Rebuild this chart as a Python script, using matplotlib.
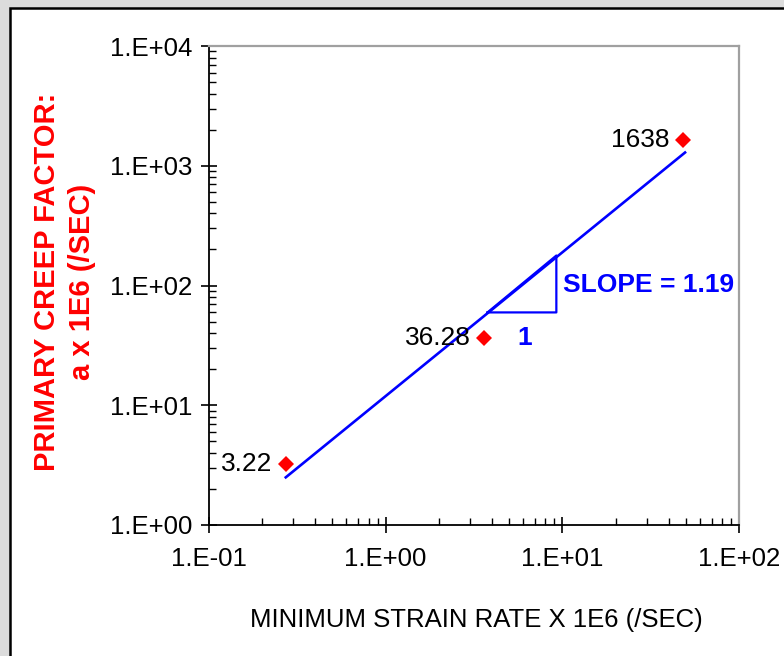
import numpy as np
import matplotlib.pyplot as plt
from matplotlib.patches import Rectangle
from matplotlib.ticker import LogLocator, FixedLocator, NullFormatter

plt.rcParams['font.family'] = ['Liberation Sans', 'DejaVu Sans']

# measured points (strain rate x1E6, primary creep factor x1E6)
strain_rate = [0.272, 3.62, 48.5]
creep_factor = [3.22, 36.28, 1638]
point_labels = ['3.22', '36.28', '1638']

# fitted power law line end points
fit_x = [0.272, 49.5]
fit_y = [2.5, 1290]

# slope triangle corners
tri_x = [3.77, 9.25, 9.25, 3.77]
tri_y = [59.6, 59.6, 178, 59.6]

x_ticks = [0.1, 1, 10, 100]
x_ticklabels = ['1.E-01', '1.E+00', '1.E+01', '1.E+02']
y_ticks = [1, 10, 100, 1000, 10000]
y_ticklabels = ['1.E+00', '1.E+01', '1.E+02', '1.E+03', '1.E+04']

fig = plt.figure(figsize=(7.84, 6.56), dpi=100, facecolor='#dcdcdc')
# white panel with black edge on top/left
fig.patches.append(Rectangle((10 / 784, -0.1), 1.1, 1.1 - 8 / 656,
                             transform=fig.transFigure, facecolor='white',
                             edgecolor='black', linewidth=1.8, zorder=-5))

ax = fig.add_axes([209 / 784, 1 - 525 / 656, 530 / 784, 479 / 656])
ax.set_zorder(1)
ax.set_xscale('log')
ax.set_yscale('log')
ax.set_xlim(0.1, 100)
ax.set_ylim(1, 10000)

ax.plot(fit_x, fit_y, color='#0000ff', lw=1.9, zorder=2)
ax.plot(tri_x, tri_y, color='#0000ff', lw=1.6, zorder=2)
ax.plot(strain_rate, creep_factor, 'D', color='#ff0000', markersize=8,
        markeredgewidth=0, zorder=3)

for xv, yv, lab in zip(strain_rate, creep_factor, point_labels):
    ax.annotate(lab, (xv, yv), xytext=(-10, 0), textcoords='offset points',
                ha='right', va='center', fontsize=19, color='black')

ax.text(10.1, 101, 'SLOPE = 1.19', color='#0000ff', fontsize=19,
        fontweight='bold', ha='left', va='center')
ax.text(6.14, 36.5, '1', color='#0000ff', fontsize=19,
        fontweight='bold', ha='center', va='center')

ax.xaxis.set_major_locator(FixedLocator(x_ticks))
ax.yaxis.set_major_locator(FixedLocator(y_ticks))
ax.set_xticklabels(x_ticklabels)
ax.set_yticklabels(y_ticklabels)
ax.xaxis.set_minor_locator(LogLocator(base=10, subs=np.arange(2, 10)))
ax.yaxis.set_minor_locator(LogLocator(base=10, subs=np.arange(2, 10)))
ax.xaxis.set_minor_formatter(NullFormatter())
ax.yaxis.set_minor_formatter(NullFormatter())

ax.tick_params(which='major', direction='inout', length=12, width=1.2,
               labelsize=18.5, color='black')
ax.tick_params(axis='x', which='major', pad=10)
ax.tick_params(axis='y', which='major', pad=6)
ax.tick_params(which='minor', direction='in', length=5, width=1.0)

for s in ['left', 'bottom']:
    ax.spines[s].set_color('black')
    ax.spines[s].set_linewidth(1.3)
for s in ['top', 'right']:
    ax.spines[s].set_color('#a0a0a0')
    ax.spines[s].set_linewidth(1.6)

fig.text(476 / 784, 1 - 620 / 656, 'MINIMUM STRAIN RATE X 1E6 (/SEC)',
         ha='center', va='center', fontsize=18.5)
fig.text(47 / 784, 1 - 282 / 656, 'PRIMARY CREEP FACTOR:', rotation=90,
         ha='center', va='center', fontsize=21, fontweight='bold', color='#ff0000')
fig.text(82 / 784, 1 - 282 / 656, 'a x 1E6 (/SEC)', rotation=90,
         ha='center', va='center', fontsize=21, fontweight='bold', color='#ff0000')

fig.savefig('out.png', dpi=100, facecolor=fig.get_facecolor())
